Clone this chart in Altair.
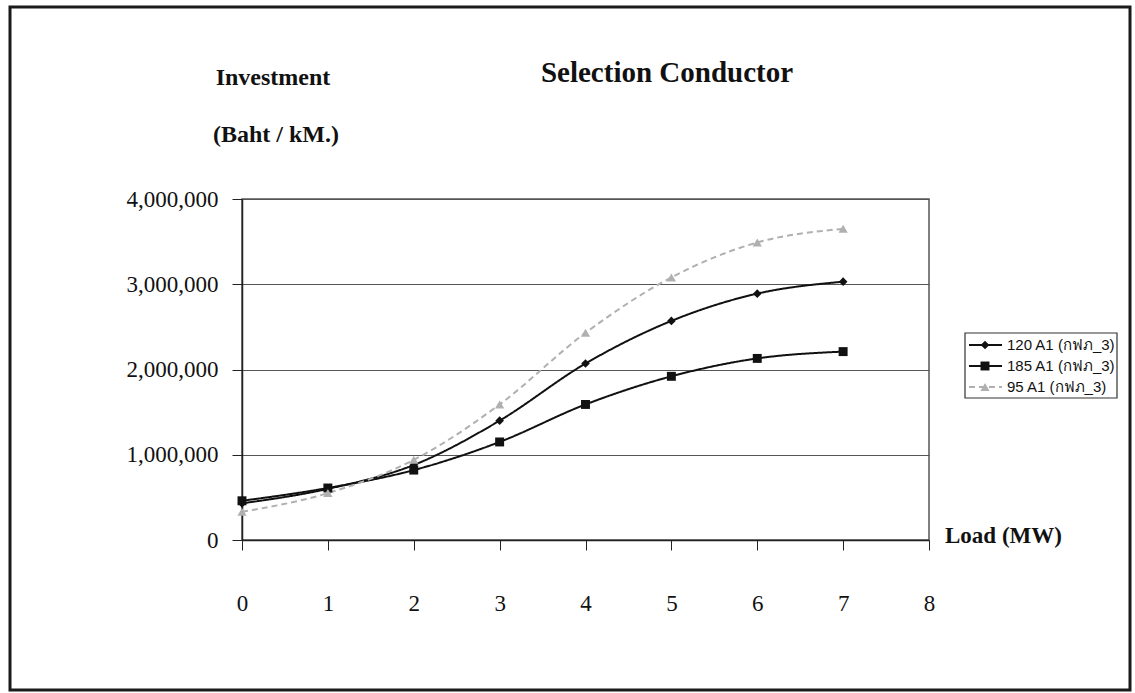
import altair as alt
import pandas as pd

# Investment per km for each conductor size versus load
load_mw = [0, 1, 2, 3, 4, 5, 6, 7]
series_names = ["120 A1 (กฟภ_3)", "185 A1 (กฟภ_3)", "95 A1 (กฟภ_3)"]
inv_120 = [430000, 600000, 880000, 1400000, 2070000, 2570000, 2890000, 3030000]
inv_185 = [460000, 610000, 820000, 1150000, 1590000, 1920000, 2130000, 2210000]
inv_95 = [330000, 550000, 940000, 1590000, 2430000, 3080000, 3490000, 3650000]
x_ticks = [0, 1, 2, 3, 4, 5, 6, 7, 8]
y_ticks = [0, 1000000, 2000000, 3000000, 4000000]

rows = []
for name, vals in zip(series_names, [inv_120, inv_185, inv_95]):
    for x, v in zip(load_mw, vals):
        rows.append({"series": name, "load": x, "investment": v})
df = pd.DataFrame(rows)

SERIF = "Liberation Serif"
SANS = "Liberation Sans"

color_scale = alt.Scale(domain=series_names, range=["#111111", "#111111", "#b0b0b0"])
dash_scale = alt.Scale(domain=series_names, range=[[1, 0], [1, 0], [6, 4]])
shape_scale = alt.Scale(domain=series_names, range=["diamond", "square", "triangle-up"])
size_scale = alt.Scale(domain=series_names, range=[75, 85, 40])

x_enc = alt.X("load:Q", scale=alt.Scale(domain=[0, 8], nice=False),
              axis=alt.Axis(values=x_ticks, format="d", title=None, grid=False,
                            labelFont=SERIF, labelFontSize=23, labelColor="#111",
                            labelPadding=42, labelFlush=False, tickSize=10,
                            tickColor="#222", domainColor="#222", domainWidth=1.5))
y_enc = alt.Y("investment:Q", scale=alt.Scale(domain=[0, 4000000], nice=False),
              axis=alt.Axis(values=y_ticks, format=",d", title=None, grid=True,
                            gridColor="#555", gridWidth=1.2,
                            labelFont=SERIF, labelFontSize=23, labelColor="#111",
                            labelPadding=14, labelFlush=False, tickSize=10,
                            tickColor="#222", domainColor="#222", domainWidth=1.5))

base = alt.Chart(df)
lines = base.mark_line(interpolate="monotone", strokeWidth=2).encode(
    x=x_enc, y=y_enc,
    color=alt.Color("series:N", scale=color_scale, legend=None),
    strokeDash=alt.StrokeDash("series:N", scale=dash_scale, legend=None),
    detail="series:N",
)
points = base.mark_point(filled=True, opacity=1).encode(
    x="load:Q", y="investment:Q",
    color=alt.Color("series:N", scale=color_scale, legend=None),
    shape=alt.Shape("series:N", scale=shape_scale, legend=None),
    size=alt.Size("series:N", scale=size_scale, legend=None),
)
plot = alt.layer(lines, points)

# Legend box with line + marker samples
leg_df = pd.DataFrame({"series": series_names})
leg_y = alt.Y("series:N", scale=alt.Scale(type="point", domain=series_names,
                                          range=[146, 188], padding=0), axis=None)
leg_box = alt.Chart(pd.DataFrame({"k": [0]})).mark_rect(
    fill="white", stroke="#333", strokeWidth=1.2).encode(
    x=alt.value(723), x2=alt.value(875), y=alt.value(134), y2=alt.value(199))
leg_lines = alt.Chart(leg_df).mark_rule(strokeWidth=2).encode(
    x=alt.value(727), x2=alt.value(760), y=leg_y,
    color=alt.Color("series:N", scale=color_scale, legend=None),
    strokeDash=alt.StrokeDash("series:N", scale=dash_scale, legend=None))
leg_pts = alt.Chart(leg_df).mark_point(filled=True, opacity=1).encode(
    x=alt.value(743), y=leg_y,
    color=alt.Color("series:N", scale=color_scale, legend=None),
    shape=alt.Shape("series:N", scale=shape_scale, legend=None),
    size=alt.Size("series:N", scale=size_scale, legend=None))
leg_text = alt.Chart(leg_df).mark_text(
    align="left", baseline="middle", font=SANS, fontSize=15, color="#111").encode(
    x=alt.value(765), y=leg_y, text="series:N")
legend = alt.layer(leg_box, leg_lines, leg_pts, leg_text)


def label(text, x, y, size, align="center"):
    return alt.Chart(pd.DataFrame({"t": [text]})).mark_text(
        font=SERIF, fontSize=size, fontWeight="bold", align=align,
        baseline="middle", color="#111").encode(
        x=alt.value(x), y=alt.value(y), text="t:N")


title = label("Selection Conductor", 425, -126, 29)
ytitle1 = label("Investment", 31, -121, 24)
ytitle2 = label("(Baht / kM.)", 34, -64, 24)
xtitle = label("Load (MW)", 703, 337, 23, align="left")

frame = alt.Chart(pd.DataFrame({"k": [0]})).mark_rect(
    fill="transparent", stroke="#1a1a1a", strokeWidth=3).encode(
    x=alt.value(-232), x2=alt.value(888), y=alt.value(-192), y2=alt.value(491))

chart = alt.layer(
    plot, legend, title, ytitle1, ytitle2, xtitle, frame,
).resolve_scale(y="independent").properties(
    width=687, height=341,
    autosize=alt.AutoSizeParams(type="none"),
    padding={"left": 242, "top": 199, "right": 206, "bottom": 153},
    background="white",
).configure_view(stroke="#555", strokeWidth=1.5)

chart.save("out.html", embed_options={"renderer": "svg", "actions": False})
